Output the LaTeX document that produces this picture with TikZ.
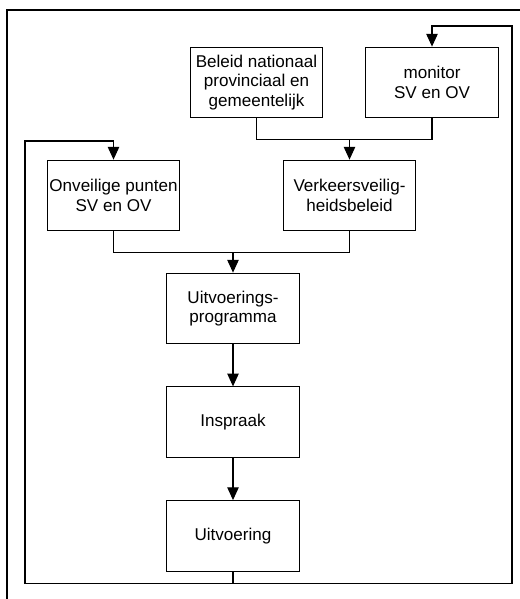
\documentclass[tikz,border=0pt]{standalone}
\usepackage{fontspec}
\setmainfont{Liberation Sans}
\usepackage{tikz}
\usetikzlibrary{arrows.meta, positioning, calc}

\begin{document}
\begin{tikzpicture}[
    x=0.75pt, y=-0.75pt,
    node distance=31.5pt,
    stap/.style={rectangle, draw=black, line width=0.8pt, minimum width=99.5pt, minimum height=53pt, align=center, inner sep=1pt, font=\fontsize{12.8}{14.6}\selectfont},
    lijn/.style={draw=black, line width=0.8pt},
    pijl/.style={lijn, -{Triangle[length=9.5pt, width=8.5pt]}}
]
\useasboundingbox (0,0) rectangle (520,599);

% Outer frame (runs off the page on the right and bottom)
\draw[lijn] (520,10) -| (7,599);

% Top row
\node[stap] (beleid) at (256.5,82.5) {Beleid nationaal\\provinciaal en\\gemeentelijk};
\node[stap] (monitor) at (432,82.5) {monitor\\SV en OV};

% Middle row
\node[stap] (onveilig) at (113.5,195.5) {Onveilige punten\\SV en OV};
\node[stap] (verkeer) at (349.5,195.5) {Verkeersveilig-\\heidsbeleid};

% Chain
\node[stap] (programma) at (233,308.5) {Uitvoerings-\\programma};
\node[stap, below=of programma] (inspraak) {Inspraak};
\node[stap, below=of inspraak] (uitvoering) {Uitvoering};

% Joins
\path (beleid.south) ++(0,21) coordinate (bjoin);
\path (onveilig.south) ++(0,21) coordinate (ojoin);
\path (uitvoering.south) ++(0,12) coordinate (ujoin);

\draw[lijn] (beleid.south) -- (bjoin) -| (monitor.south);
\draw[pijl] (bjoin -| verkeer.north) -- (verkeer.north);

\draw[lijn] (onveilig.south) -- (ojoin) -| (verkeer.south);
\draw[pijl] (ojoin -| programma.north) -- (programma.north);

\draw[pijl] (programma) -- (inspraak);
\draw[pijl] (inspraak) -- (uitvoering);

% Feedback loops
\coordinate (links) at (25,141);
\coordinate (rechts) at (512,26);
\draw[lijn] (uitvoering.south) -- (ujoin);
\draw[pijl] (ujoin) -| (links) -| (onveilig.north);
\draw[pijl] (ujoin) -| (rechts) -| (monitor.north);

\end{tikzpicture}
\end{document}
